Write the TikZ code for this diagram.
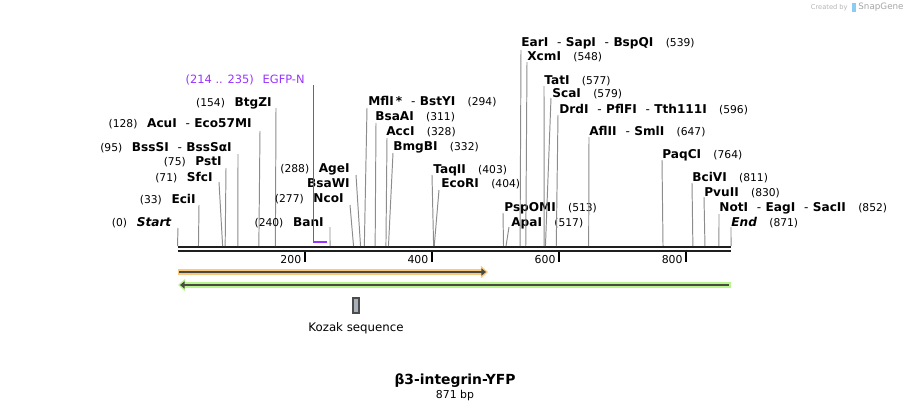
\documentclass[tikz,border=0pt]{standalone}
\usepackage{fontspec}
\setmainfont{DejaVu Sans}
\usetikzlibrary{arrows.meta, positioning, calc}
\definecolor{cutgray}{HTML}{8C8C8C}
\definecolor{egfp}{HTML}{9933FF}
\definecolor{orangefeat}{HTML}{FBC97D}
\definecolor{greenfeat}{HTML}{B8F58C}
\definecolor{featline}{HTML}{4A4A44}
\definecolor{kozakfill}{HTML}{A8B0BA}
\definecolor{markgray}{HTML}{B4B4B4}
\definecolor{snapblue}{HTML}{8CCBF2}
\newcommand{\bpnum}[1]{{\mdseries\upshape\fontsize{6.1}{7}\selectfont(#1)}}
\newcommand{\sepdash}{\textmd{\hspace{5pt}-\hspace{2.5pt}}}
\newcommand{\bpx}[1]{177.5+#1*0.6355}
\tikzset{cut/.style={draw=cutgray, line width=0.55pt},
    site/.style={font=\fontsize{6.9}{8}\selectfont\bfseries, inner sep=0pt},
    backbone/.style={draw=black!88, line width=1.6pt},
    tick/.style={draw=black, line width=1.1pt},
    ticklabel/.style={font=\fontsize{6.2}{7}\selectfont, inner sep=0pt, anchor=base east},
    featband/.style={line width=3.4pt},
    featarrow/.style={draw=featline, line width=1.2pt}}
\begin{document}
\begin{tikzpicture}[x=0.02cm, y=-0.02cm]
    \useasboundingbox (0,0) rectangle (910,409);
    % backbone
    \coordinate (b0) at (\bpx{0},247);
    \coordinate (b1) at (\bpx{871},247);
    \draw[backbone] (b0) -- (b1);
    \draw[backbone] ([yshift=-4*0.02cm]b0) -- ([yshift=-4*0.02cm]b1);
    \foreach \t in {200,400,600,800} {
        \coordinate (k\t) at ({\bpx{\t}},252);
        \draw[tick] (k\t) -- ++(0,10);
        \node[ticklabel] (kl\t) at ([xshift=-3*0.02cm,yshift=-11*0.02cm]k\t) {\t};
    }
    % sites labelled to the left
    \foreach \lx/\ly/\tx/\ty/\bp/\txt in {172/226/178/228/0/{\bpnum{0}\hspace{5.5pt}\textit{Start}},
        196/203/199/205/33/{\bpnum{33}\hspace{5.5pt}EciI},
        213/181/219/182/71/{\bpnum{71}\hspace{5.5pt}SfcI},
        222/165/226/168/75/{\bpnum{75}\hspace{5.5pt}PstI},
        232/151/238/154/95/{\bpnum{95}\hspace{5.5pt}BssSI\sepdash BssSαI},
        252/127/260/131/128/{\bpnum{128}\hspace{5.5pt}AcuI\sepdash Eco57MI},
        272/106/276/108/154/{\bpnum{154}\hspace{5.5pt}BtgZI},
        324/226/330/227/240/{\bpnum{240}\hspace{5.5pt}BanI},
        344/202/350/205/277/{\bpnum{277}\hspace{5.5pt}NcoI},
        350/172/356/175/288/{\bpnum{288}\hspace{5.5pt}AgeI}}
    {
        \node[site, anchor=base east] (s\bp) at (\lx,\ly) {\txt};
        \coordinate (t\bp) at (\tx,\ty);
        \coordinate (c\bp) at ({\bpx{\bp}},246);
        \draw[cut] (t\bp) -- (c\bp);
    }
    \node[site, anchor=base east] (s288b) at (350,187) {BsaWI};
    % sites labelled to the right
    \foreach \lx/\ly/\tx/\ty/\bp/\txt in {368/105/367/108/294/{MflI\,*\sepdash BstYI\hspace{7pt}\bpnum{294}},
        375/120/376/123/311/{BsaAI\hspace{7pt}\bpnum{311}},
        386/135/387/138/328/{AccI\hspace{7pt}\bpnum{328}},
        393/150/393/153/332/{BmgBI\hspace{7pt}\bpnum{332}},
        433/173/432/175/403/{TaqII\hspace{7pt}\bpnum{403}},
        441/187/439/190/404/{EcoRI\hspace{7pt}\bpnum{404}},
        504/211/503/213/513/{PspOMI\hspace{7pt}\bpnum{513}},
        511/226/509/227/517/{ApaI\hspace{7pt}\bpnum{517}},
        521/47/521/50/539/{EarI\sepdash SapI\sepdash BspQI\hspace{7pt}\bpnum{539}},
        527/60/527/62/548/{XcmI\hspace{7pt}\bpnum{548}},
        544/84/544/86/577/{TatI\hspace{7pt}\bpnum{577}},
        552/97/551/98/579/{ScaI\hspace{7pt}\bpnum{579}},
        559/113/558/115/596/{DrdI\sepdash PflFI\sepdash Tth111I\hspace{7pt}\bpnum{596}},
        589/135/589/137/647/{AflII\sepdash SmlI\hspace{7pt}\bpnum{647}},
        662/158/662/160/764/{PaqCI\hspace{7pt}\bpnum{764}},
        692/181/692/183/811/{BciVI\hspace{7pt}\bpnum{811}},
        704/196/704/197/830/{PvuII\hspace{7pt}\bpnum{830}},
        719/211/719/214/852/{NotI\sepdash EagI\sepdash SacII\hspace{7pt}\bpnum{852}},
        731/226/731/227/871/{\textit{End}\hspace{7pt}\bpnum{871}}}
    {
        \node[site, anchor=base west] (s\bp) at (\lx,\ly) {\txt};
        \coordinate (t\bp) at (\tx,\ty);
        \coordinate (c\bp) at ({\bpx{\bp}},246);
        \draw[cut] (t\bp) -- (c\bp);
    }
    % EGFP-N primer
    \node[inner sep=0pt, anchor=base east, text=egfp, font=\fontsize{6.5}{8}\selectfont] (egfp) at (305,83) {(214 .. 235)\hspace{5pt}EGFP-N};
    \coordinate (eg0) at (313.5,85);
    \coordinate (eg1) at ({\bpx{214}},242);
    \coordinate (eg2) at ({\bpx{235}},242);
    \draw[egfp, line width=0.75pt] (eg0) -- (eg0 |- eg1);
    \draw[egfp, line width=1.4pt] (eg1) -- (eg2);
    % features
    \coordinate (o0) at (178,272);
    \coordinate (o1) at (488,272);
    \draw[orangefeat, featband, -{Triangle[length=4pt,width=6.8pt]}] (o0) -- (o1);
    \draw[featarrow, -{Triangle[length=2.6pt,width=4pt]}] ([xshift=1*0.02cm]o0) -- ([xshift=-2*0.02cm]o1);
    \coordinate (g0) at (178,285);
    \coordinate (g1) at (731,285);
    \draw[greenfeat, featband, {Triangle[length=4pt,width=6.8pt]}-] (g0) -- (g1);
    \draw[featarrow, {Triangle[length=2.6pt,width=4pt]}-] ([xshift=2*0.02cm]g0) -- ([xshift=-2*0.02cm]g1);
    % Kozak sequence
    \draw[fill=kozakfill, draw=black!70, line width=0.6pt] (353,298) rectangle (359,313);
    \node[inner sep=0pt, anchor=base, font=\fontsize{6.7}{8}\selectfont] (kozak) at (356,331) {Kozak sequence};
    % title
    \node[inner sep=0pt, anchor=base, font=\fontsize{7.9}{9}\selectfont\bfseries] (title) at (455,384) {β3-integrin-YFP};
    \node[inner sep=0pt, anchor=base, font=\fontsize{6.2}{7}\selectfont] (size) at (455,398) {871 bp};
    % watermark
    \node[inner sep=0pt, anchor=base east, text=markgray, font=\fontsize{3.8}{4}\selectfont] (mark) at (848,10) {Created by};
    \fill[snapblue] (852,3) rectangle (856,12);
    \node[inner sep=0pt, anchor=base west, text=markgray!120, font=\fontsize{5}{6}\selectfont] (snap) at (858,10) {SnapGene};
\end{tikzpicture}
\end{document}
